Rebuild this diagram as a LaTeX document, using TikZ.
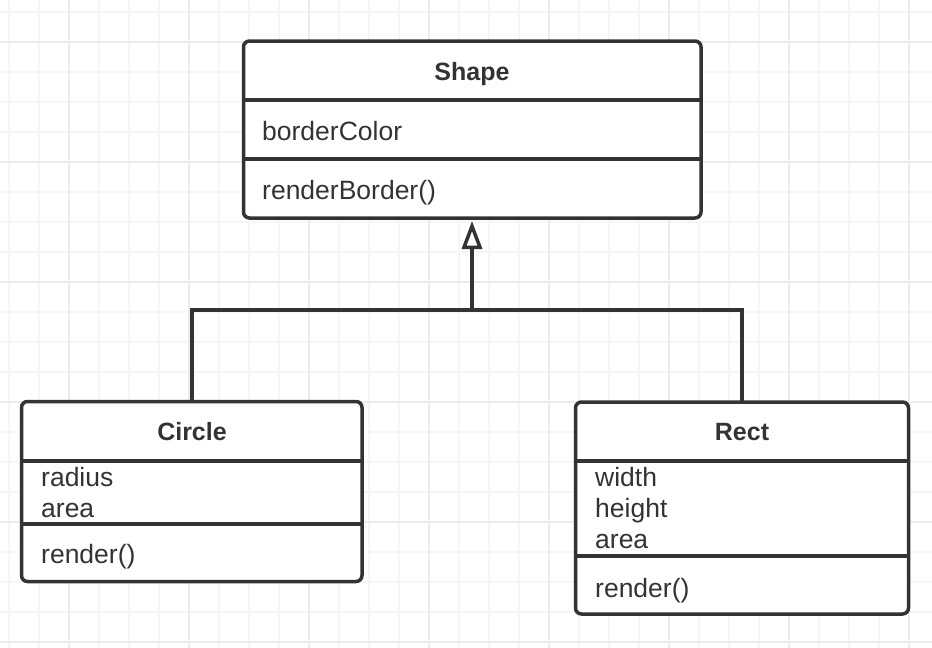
\documentclass[tikz,border=0pt]{standalone}
\usepackage{fontspec}
\setmainfont{Liberation Sans}
\usetikzlibrary{arrows.meta}
\definecolor{ink}{HTML}{333333}
\definecolor{gridminor}{HTML}{F6F6F6}
\definecolor{gridmajor}{HTML}{ECECEC}
\begin{document}
\begin{tikzpicture}[x=1pt,y=-1pt,
  classbox/.style={draw=ink, line width=3.5pt, rounded corners=6pt, fill=white, inner sep=0pt, outer sep=0pt},
  titletext/.style={text=ink, font=\fontsize{25}{30}\selectfont\bfseries, anchor=base, inner sep=0pt},
  member/.style={text=ink, font=\fontsize{26.5}{30}\selectfont, anchor=base west, inner sep=0pt},
  divider/.style={draw=ink, line width=3.5pt},
  conn/.style={draw=ink, line width=3.5pt},
  minorline/.style={draw=gridminor, line width=1.5pt},
  majorline/.style={draw=gridmajor, line width=1.5pt}]
\useasboundingbox (0,0) rectangle (932,648);
\fill[white] (0,0) rectangle (932,648);
% grid
\foreach \x in {9,39,...,932} \draw[minorline] (\x,0) -- (\x,648);
\foreach \y in {12,42,...,648} \draw[minorline] (0,\y) -- (932,\y);
\foreach \x in {69,189,...,932} \draw[majorline] (\x,0) -- (\x,648);
\foreach \y in {42,162,...,648} \draw[majorline] (0,\y) -- (932,\y);

% connectors
\coordinate (jn) at (472,310);
\coordinate (shapeanchor) at (472.25,129.5);
\coordinate (circleanchor) at (191.75,491.5);
\coordinate (rectanchor) at (742,508);
\node[minimum width=457.5pt, minimum height=177pt, inner sep=0pt, outer sep=0pt] (shapeghost) at (shapeanchor) {};
\node[minimum width=340.5pt, minimum height=180pt, inner sep=0pt, outer sep=0pt] (circleghost) at (circleanchor) {};
\node[minimum width=333pt, minimum height=212pt, inner sep=0pt, outer sep=0pt] (rectghost) at (rectanchor) {};
\draw[conn] (circleghost.north) |- (jn) -| (rectghost.north);
\draw[conn, -{Triangle[length=28pt, width=20pt, fill=white, line join=miter]}, shorten >=3pt] (jn) -- (jn |- shapeghost.south);

% Shape
\node[classbox, minimum width=457.5pt, minimum height=177pt] (shape) at (shapeanchor) {};
\draw[divider] (shape.west |- 0,100) -- (shape.east |- 0,100);
\draw[divider] (shape.west |- 0,159) -- (shape.east |- 0,159);
\node[titletext] (shapetitle) at (472,80) {Shape};
\node[member] (shapeattr) at (262,140) {borderColor};
\node[member] (shapeop) at (262,199) {renderBorder()};

% Circle
\node[classbox, minimum width=340.5pt, minimum height=180pt] (circle) at (circleanchor) {};
\draw[divider] (circle.west |- 0,461) -- (circle.east |- 0,461);
\draw[divider] (circle.west |- 0,524) -- (circle.east |- 0,524);
\node[titletext] (circletitle) at (192,440) {Circle};
\node[member] (circleattr1) at (41,486) {radius};
\node[member] (circleattr2) at (41,517) {area};
\node[member] (circleop) at (41,563) {render()};

% Rect
\node[classbox, minimum width=333pt, minimum height=212pt] (rect) at (rectanchor) {};
\draw[divider] (rect.west |- 0,461) -- (rect.east |- 0,461);
\draw[divider] (rect.west |- 0,556) -- (rect.east |- 0,556);
\node[titletext] (recttitle) at (742,440) {Rect};
\node[member] (rectattr1) at (595,486) {width};
\node[member] (rectattr2) at (595,517) {height};
\node[member] (rectattr3) at (595,548) {area};
\node[member] (rectop) at (595,597) {render()};
\end{tikzpicture}
\end{document}
